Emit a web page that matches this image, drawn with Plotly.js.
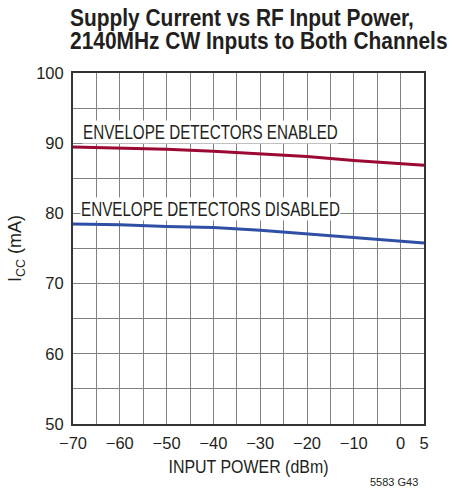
<!DOCTYPE html>
<html>
<head>
<meta charset="utf-8">
<script src="https://cdn.plot.ly/plotly-3.0.1.min.js"></script>
<style>html,body{margin:0;padding:0;background:#fff;}#chart{width:460px;height:494px;}</style>
</head>
<body>
<div id="chart"></div>
<script>
// Data
const inputPower = [-70, -60, -50, -40, -30, -20, -10, 0, 5];
const iccEnabled = [89.45, 89.3, 89.15, 88.85, 88.5, 88.1, 87.55, 87.05, 86.85];
const iccDisabled = [78.5, 78.4, 78.15, 78.0, 77.6, 77.1, 76.6, 76.0, 75.8];
const xTickVals = [-70, -60, -50, -40, -30, -20, -10, 0, 5];
const xTickText = ['\u221270', '\u221260', '\u221250', '\u221240', '\u221230', '\u221220', '\u221210', '0', '5'];
const yTickVals = [50, 60, 70, 80, 90, 100];
const yTickText = ['50', '60', '70', '80', '90', '100'];
const labelEnabled = 'ENVELOPE DETECTORS ENABLED';
const labelDisabled = 'ENVELOPE DETECTORS DISABLED';

const FONT = '"Liberation Sans", Arial, Helvetica, sans-serif';
const INK = '#231f20';
const GRID = '#808080';

const traces = [
  {x: inputPower, y: iccEnabled, mode: 'lines', line: {color: '#9c0a34', width: 3}, hoverinfo: 'skip'},
  {x: inputPower, y: iccDisabled, mode: 'lines', line: {color: '#2f4fa6', width: 3}, hoverinfo: 'skip'}
];

const layout = {
  width: 460, height: 494,
  margin: {l: 73, r: 36, t: 73, b: 70},
  paper_bgcolor: '#fff', plot_bgcolor: '#fff',
  showlegend: false,
  font: {family: FONT, color: INK, size: 17},
  title: {
    text: 'Supply Current vs RF Input Power,<br>2140MHz CW Inputs to Both Channels',
    font: {family: FONT, size: 23, weight: 'bold', color: INK},
    xref: 'container', x: 70/460, xanchor: 'left',
    yref: 'container', y: 1 - 26/494, yanchor: 'top'
  },
  xaxis: {
    range: [-70, 5],
    tickmode: 'array', tickvals: xTickVals, ticktext: xTickText,
    showgrid: true, gridcolor: GRID, gridwidth: 1,
    minor: {tickmode: 'linear', tick0: -70, dtick: 5, showgrid: true, gridcolor: GRID, gridwidth: 1, ticks: ''},
    showline: true, linecolor: '#333', linewidth: 2, mirror: true,
    ticks: '', zeroline: false, ticklabelstandoff: 3,
    tickfont: {family: FONT, size: 16.5, color: INK},
    title: {text: 'INPUT POWER (dBm)', font: {family: FONT, size: 19, color: INK}, standoff: 9}
  },
  yaxis: {
    range: [50, 100],
    tickmode: 'array', tickvals: yTickVals, ticktext: yTickText,
    showgrid: true, gridcolor: GRID, gridwidth: 1,
    minor: {tickmode: 'linear', tick0: 50, dtick: 5, showgrid: true, gridcolor: GRID, gridwidth: 1, ticks: ''},
    showline: true, linecolor: '#333', linewidth: 2, mirror: true,
    ticks: '', zeroline: false, ticklabelstandoff: 4,
    tickfont: {family: FONT, size: 16.5, color: INK},
    title: {text: 'I<sub>CC</sub> (mA)', font: {family: FONT, size: 18, color: INK}, standoff: 10}
  },
  annotations: [
    {text: labelEnabled, xref: 'paper', yref: 'paper', x: (82 - 73)/351, y: (424 - 132.3)/351,
     xanchor: 'left', yanchor: 'middle', showarrow: false, bgcolor: '#fff', borderpad: 0,
     font: {family: FONT, size: 19.5, color: INK}},
    {text: labelDisabled, xref: 'paper', yref: 'paper', x: (79.5 - 73)/351, y: (424 - 209.2)/351,
     xanchor: 'left', yanchor: 'middle', showarrow: false, bgcolor: '#fff', borderpad: 0,
     font: {family: FONT, size: 19.5, color: INK}},
    {text: '5583 G43', xref: 'paper', yref: 'paper', x: (420 - 73)/351, y: -(482 - 424)/351,
     xanchor: 'right', yanchor: 'middle', showarrow: false, font: {family: FONT, size: 11, color: INK}}
  ]
};

function squeeze(el, s, cx) {
  const prev = el.getAttribute('transform') || '';
  el.setAttribute('transform', prev + ' translate(' + cx + ',0) scale(' + s + ',1) translate(' + (-cx) + ',0)');
}

Plotly.newPlot('chart', traces, layout, {staticPlot: true}).then(function (gd) {
  // Condensed face of the original (Helvetica Condensed) is not installed: narrow the text horizontally.
  const title = gd.querySelector('.gtitle');
  if (title) {
    title.querySelectorAll('tspan.line').forEach(function (t, i) { if (i > 0) t.setAttribute('dy', '1.02em'); });
    squeeze(title, 0.91, parseFloat(title.getAttribute('x')));
  }
  const xt = gd.querySelector('.xtitle');
  if (xt) squeeze(xt, 0.84, parseFloat(xt.getAttribute('x')));
  const anns = gd.querySelectorAll('g.annotation');
  for (let i = 0; i < 2 && i < anns.length; i++) {
    const r = anns[i].getBoundingClientRect();
    squeeze(anns[i], 0.78, r.left);
  }
});
</script>
</body>
</html>
